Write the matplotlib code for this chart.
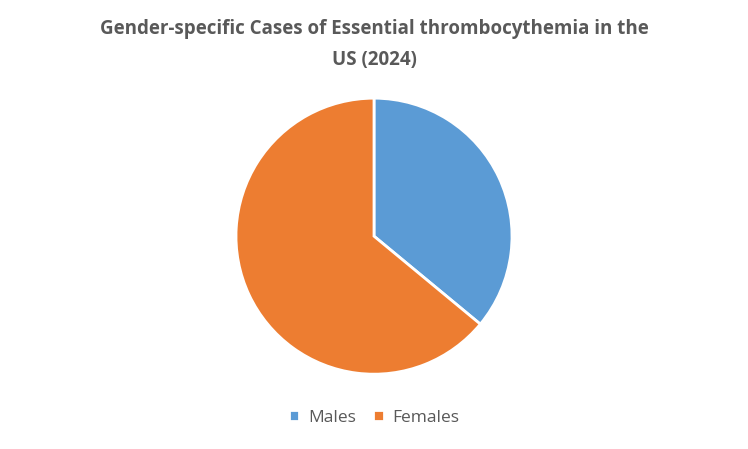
import matplotlib.pyplot as plt

labels = ["Males", "Females"]
shares = [36, 64]
colors = ["#5B9BD5", "#ED7D31"]


def main() -> None:
  plt.rcParams["font.family"] = ["Open Sans", "DejaVu Sans"]
  fig = plt.figure(figsize=(7.48, 4.49), dpi=100)

  # title, centred like the original
  fig.text(0.5, 0.935, "Gender-specific Cases of Essential thrombocythemia in the",
           ha="center", va="center", fontsize=13.5, fontweight="bold", color="#595959")
  fig.text(0.5, 0.867, "US (2024)",
           ha="center", va="center", fontsize=13.5, fontweight="bold", color="#595959")

  ax = fig.add_axes([0.5 - 0.1845, 0.474 - 0.3075, 0.369, 0.615])
  wedges, _ = ax.pie(
    shares,
    colors=colors,
    startangle=90,
    counterclock=False,
    wedgeprops={"edgecolor": "white", "linewidth": 2},
  )
  ax.set_xlim(-1, 1)
  ax.set_ylim(-1, 1)
  ax.set_aspect("equal")

  fig.legend(wedges, labels, loc="center", bbox_to_anchor=(0.5, 0.07), ncol=2,
             frameon=False, fontsize=12.5, handlelength=0.6, handleheight=0.6,
             columnspacing=1.0, handletextpad=0.5, labelcolor="#595959")

  fig.savefig("out.png", dpi=100)


if __name__ == "__main__":
  main()
